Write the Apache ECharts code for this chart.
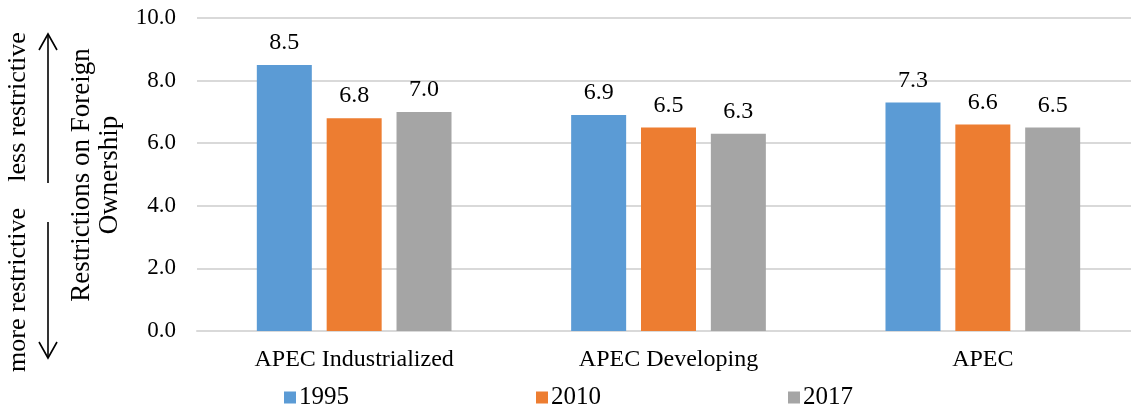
<!DOCTYPE html>
<html>
<head>
<meta charset="utf-8">
<script src="https://cdn.jsdelivr.net/npm/echarts@6/dist/echarts.min.js"></script>
<style>
html,body{margin:0;padding:0;background:#fff;}
#chart{width:1131px;height:409px;}
</style>
</head>
<body>
<div id="chart"></div>
<script>
const categories = ['APEC Industrialized', 'APEC Developing', 'APEC'];
const seriesNames = ['1995', '2010', '2017'];
const values1995 = [8.5, 6.9, 7.3];
const values2010 = [6.8, 6.5, 6.6];
const values2017 = [7.0, 6.3, 6.5];
const yTicks = { min: 0, max: 10, interval: 2 };
const colors = ['#5B9BD5', '#ED7D31', '#A5A5A5'];

const FONT = "'Liberation Serif', 'Times New Roman', serif";
const chart = echarts.init(document.getElementById('chart'), null, { renderer: 'canvas' });

function barSeries(name, data, color) {
  return {
    name: name,
    type: 'bar',
    data: data,
    barWidth: 55,
    barGap: '27%',
    itemStyle: { color: color },
    label: {
      show: true,
      position: 'top',
      distance: 10,
      color: '#000',
      fontFamily: FONT,
      fontSize: 24,
      formatter: p => p.value.toFixed(1)
    }
  };
}

const option = {
  backgroundColor: '#fff',
  animation: false,
  textStyle: { fontFamily: FONT },
  grid: { left: 197, top: 18, width: 943, height: 313, outerBoundsMode: 'none', containLabel: false },
  legend: {
    data: seriesNames,
    left: 284,
    top: 385,
    padding: 0,
    itemWidth: 12,
    itemHeight: 12,
    itemGap: 187,
    icon: 'rect',
    textStyle: { fontFamily: FONT, fontSize: 25, color: '#000', padding: [0, 0, 0, -2] }
  },
  xAxis: {
    type: 'category',
    data: categories,
    axisLine: { show: true, lineStyle: { color: '#d9d9d9', width: 2 } },
    axisTick: { show: false },
    axisLabel: { margin: 17, color: '#000', fontFamily: FONT, fontSize: 24 }
  },
  yAxis: {
    type: 'value',
    min: yTicks.min,
    max: yTicks.max,
    interval: yTicks.interval,
    axisLine: { show: false },
    axisTick: { show: false },
    splitLine: { lineStyle: { color: '#d9d9d9', width: 2 } },
    axisLabel: { margin: 21, color: '#000', fontFamily: FONT, fontSize: 23, formatter: v => v.toFixed(1) }
  },
  series: [
    barSeries(seriesNames[0], values1995, colors[0]),
    barSeries(seriesNames[1], values2010, colors[1]),
    barSeries(seriesNames[2], values2017, colors[2])
  ],
  graphic: [
    {
      type: 'text', x: 96, y: 175, rotation: Math.PI / 2,
      style: { text: 'Restrictions on Foreign\nOwnership', align: 'center', verticalAlign: 'middle',
        fontFamily: FONT, fontSize: 27, lineHeight: 28, fill: '#000' }
    },
    {
      type: 'text', x: 18, y: 107, rotation: Math.PI / 2,
      style: { text: 'less restrictive', align: 'center', verticalAlign: 'middle',
        fontFamily: FONT, fontSize: 26, fill: '#000' }
    },
    {
      type: 'text', x: 18, y: 290, rotation: Math.PI / 2,
      style: { text: 'more restrictive', align: 'center', verticalAlign: 'middle',
        fontFamily: FONT, fontSize: 26, fill: '#000' }
    },
    { type: 'line', shape: { x1: 48, y1: 183, x2: 48, y2: 35 }, style: { stroke: '#000', lineWidth: 1.6 } },
    { type: 'polyline', shape: { points: [[39, 50], [48, 34], [57, 50]] }, style: { stroke: '#000', lineWidth: 1.6, fill: null } },
    { type: 'line', shape: { x1: 48, y1: 222, x2: 48, y2: 357 }, style: { stroke: '#000', lineWidth: 1.6 } },
    { type: 'polyline', shape: { points: [[39, 342], [48, 358], [57, 342]] }, style: { stroke: '#000', lineWidth: 1.6, fill: null } }
  ]
};
chart.setOption(option);
</script>
</body>
</html>
